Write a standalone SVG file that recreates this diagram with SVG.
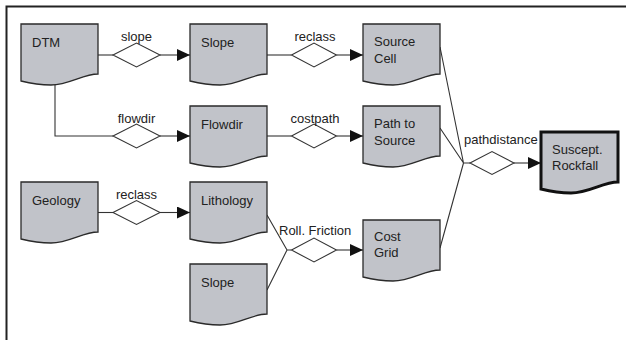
<svg xmlns="http://www.w3.org/2000/svg" width="626" height="340" viewBox="0 0 626 340">
<style>
.doc{fill:#c1c3c9;stroke:#2a2a2a;stroke-width:1.3}
.doc.final{stroke:#111;stroke-width:3}
.t{font-family:"Liberation Sans",Arial,sans-serif;font-size:13px;fill:#222}
.lbl{text-anchor:middle}
.ln{fill:none;stroke:#333;stroke-width:1.1}
.dia{fill:#fff;stroke:#333;stroke-width:1.1}
.frame{fill:none;stroke:#222;stroke-width:2}
</style>
<defs>
<path id="docshape" d="M0,0 H77 V50 C62,50 48,61 30,61 C16,61 8,59 0,57 Z"/>
<marker id="arr" markerWidth="13" markerHeight="12" refX="13" refY="6" orient="auto" markerUnits="userSpaceOnUse"><path d="M0,0 L13,6 L0,12 Z" fill="#111"/></marker>
</defs>
<path class="frame" d="M6.5,340 V6.5 H626"/>
<g id="connectors">
<!-- DTM -> slope -> Slope -->
<path class="ln" d="M98,55 H113"/>
<polygon class="dia" points="113,55 136.5,43 160,55 136.5,67"/>
<path class="ln" d="M160,55 H190" marker-end="url(#arr)"/>
<text class="t lbl" x="136.5" y="41">slope</text>
<!-- Slope -> reclass -> Source Cell -->
<path class="ln" d="M267,55 H291.5"/>
<polygon class="dia" points="291.5,55 314,43 336.5,55 314,67"/>
<path class="ln" d="M336.5,55 H363" marker-end="url(#arr)"/>
<text class="t lbl" x="315" y="41">reclass</text>
<!-- DTM -> flowdir -> Flowdir -->
<path class="ln" d="M55,85 V136 H113"/>
<polygon class="dia" points="113,136 136.5,124 160,136 136.5,148"/>
<path class="ln" d="M160,136 H190" marker-end="url(#arr)"/>
<text class="t lbl" x="136.5" y="122.5">flowdir</text>
<!-- Flowdir -> costpath -> Path to Source -->
<path class="ln" d="M267,136 H291.5"/>
<polygon class="dia" points="291.5,136 314,124 336.5,136 314,148"/>
<path class="ln" d="M336.5,136 H363" marker-end="url(#arr)"/>
<text class="t lbl" x="315" y="122.5">costpath</text>
<!-- Geology -> reclass -> Lithology -->
<path class="ln" d="M98,212.5 H113"/>
<polygon class="dia" points="113,212.5 136.5,200.5 160,212.5 136.5,224.5"/>
<path class="ln" d="M160,212.5 H190" marker-end="url(#arr)"/>
<text class="t lbl" x="136.5" y="199">reclass</text>
<!-- Lithology + Slope -> Roll. Friction -> Cost Grid -->
<path class="ln" d="M267,215 L287,250 L267,290 M287,250 H291.5"/>
<polygon class="dia" points="291.5,250 314,238 336.5,250 314,262"/>
<path class="ln" d="M336.5,250 H363" marker-end="url(#arr)"/>
<text class="t" x="279" y="235">Roll. Friction</text>
<!-- Source Cell + Path to Source + Cost Grid -> pathdistance -> Suscept. Rockfall -->
<path class="ln" d="M440,47 L463.5,163 L440,128 M463.5,163 L440,248 M463.5,163 H470"/>
<polygon class="dia" points="470,163 492,151.5 514,163 492,174.5"/>
<path class="ln" d="M514,163 H541" marker-end="url(#arr)"/>
<text class="t" x="464" y="143.5">pathdistance</text>
</g>
<g id="dtm"><use href="#docshape" class="doc" x="21" y="24"/><text class="t" x="32" y="47">DTM</text></g>
<g id="slope"><use href="#docshape" class="doc" x="190" y="24"/><text class="t" x="201" y="47">Slope</text></g>
<g id="source-cell"><use href="#docshape" class="doc" x="363" y="24"/><text class="t" x="374" y="46">Source</text><text class="t" x="374" y="62.5">Cell</text></g>
<g id="flowdir"><use href="#docshape" class="doc" x="190" y="106"/><text class="t" x="201" y="128.5">Flowdir</text></g>
<g id="path-to-source"><use href="#docshape" class="doc" x="363" y="106"/><text class="t" x="374" y="128">Path to</text><text class="t" x="374" y="144.5">Source</text></g>
<g id="geology"><use href="#docshape" class="doc" x="21" y="182"/><text class="t" x="32" y="205">Geology</text></g>
<g id="lithology"><use href="#docshape" class="doc" x="190" y="182"/><text class="t" x="201" y="204.5">Lithology</text></g>
<g id="slope2"><use href="#docshape" class="doc" x="190" y="264"/><text class="t" x="201" y="286.5">Slope</text></g>
<g id="cost-grid"><use href="#docshape" class="doc" x="363" y="220"/><text class="t" x="374" y="240.5">Cost</text><text class="t" x="374" y="256.5">Grid</text></g>
<g id="suscept-rockfall"><use href="#docshape" class="doc final" x="541" y="132"/><text class="t" x="552" y="153.5">Suscept.</text><text class="t" x="552" y="170">Rockfall</text></g>
</svg>
